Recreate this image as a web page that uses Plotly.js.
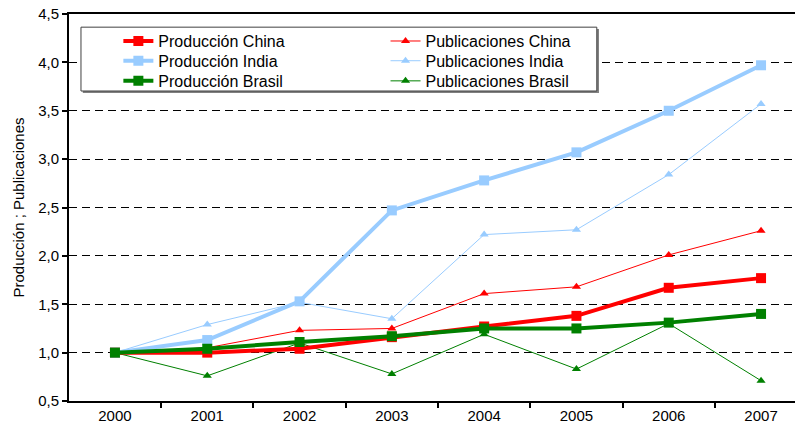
<!DOCTYPE html>
<html><head><meta charset="utf-8">
<script src="https://cdn.plot.ly/plotly-3.0.1.min.js"></script>
<style>html,body{margin:0;padding:0;background:#fff}</style>
</head><body>
<div id="chart" style="width:795px;height:434px"></div>
<script>
var years = ["2000","2001","2002","2003","2004","2005","2006","2007"];
var prodChina  = [1.00, 1.00, 1.04, 1.16, 1.27, 1.38, 1.67, 1.77];
var prodIndia  = [1.00, 1.13, 1.53, 2.47, 2.78, 3.07, 3.50, 3.97];
var prodBrasil = [1.00, 1.04, 1.11, 1.17, 1.25, 1.25, 1.31, 1.40];
var pubChina   = [1.00, 1.05, 1.23, 1.25, 1.61, 1.68, 2.01, 2.26];
var pubIndia   = [1.00, 1.29, 1.52, 1.35, 2.22, 2.27, 2.84, 3.57];
var pubBrasil  = [1.00, 0.76, 1.10, 0.78, 1.19, 0.83, 1.30, 0.71];

var RED = "#FF0000", BLUE = "#99CCFF", GREEN = "#008000";

function prod(name, y, c, lg) {
  return {x: years, y: y, name: name, type: "scatter", mode: "lines+markers",
    line: {color: c, width: 4}, marker: {symbol: "square", size: 10, color: c},
    legend: lg};
}
function pub(name, y, c, lg) {
  return {x: years, y: y, name: name, type: "scatter", mode: "lines+markers",
    line: {color: c, width: 1}, marker: {symbol: "triangle-up", size: 8, color: c},
    legend: lg};
}

var data = [
  pub("Publicaciones China", pubChina, RED, "legend4"),
  pub("Publicaciones India", pubIndia, BLUE, "legend5"),
  pub("Publicaciones Brasil", pubBrasil, GREEN, "legend6"),
  prod("Producción China", prodChina, RED, "legend"),
  prod("Producción India", prodIndia, BLUE, "legend2"),
  prod("Producción Brasil", prodBrasil, GREEN, "legend3")
];

var FONT = {family: "Liberation Sans, Arial, sans-serif", size: 15, color: "#000"};
var LFONT = {family: "Liberation Sans, Arial, sans-serif", size: 16, color: "#000"};

function leg(x, y) {
  return {x: x, y: y, xanchor: "left", yanchor: "middle",
    bgcolor: "rgba(0,0,0,0)", borderwidth: 0, font: LFONT};
}

var layout = {
  width: 795, height: 434,
  margin: {l: 69, r: 0, t: 14, b: 33},
  paper_bgcolor: "#fff", plot_bgcolor: "#fff",
  font: FONT,
  separators: ",.",
  showlegend: true,
  xaxis: {
    type: "category", range: [-0.498, 7.368],
    tickson: "boundaries", ticks: "outside", ticklen: 5, tickwidth: 2, tickcolor: "#000",
    showline: true, linecolor: "#000", linewidth: 2, mirror: true,
    showgrid: false, zeroline: false, fixedrange: true,
    tickfont: FONT
  },
  yaxis: {
    range: [0.5, 4.5], dtick: 0.5, tick0: 0.5, tickformat: ".1f",
    ticks: "outside", ticklen: 5, tickwidth: 2, tickcolor: "#000",
    showline: true, linecolor: "#000", linewidth: 2,
    showgrid: true, gridcolor: "#000", gridwidth: 1, griddash: "8px,5px",
    zeroline: false, fixedrange: true,
    tickfont: FONT,
    title: {text: "Producción ; Publicaciones", font: FONT, standoff: 10}
  },
  legend:  leg(0.068, 0.930),
  legend2: leg(0.068, 0.879),
  legend3: leg(0.068, 0.827),
  legend4: leg(0.436, 0.930),
  legend5: leg(0.436, 0.879),
  legend6: leg(0.436, 0.827),
  shapes: [
    {type: "rect", xref: "paper", yref: "paper", x0: 0.019, x1: 0.730, y0: 0.796, y1: 0.961,
     fillcolor: "#808080", line: {width: 0}, layer: "above"},
    {type: "rect", xref: "paper", yref: "paper", x0: 0.0165, x1: 0.727, y0: 0.801, y1: 0.966,
     fillcolor: "#fff", line: {color: "#404040", width: 1}, layer: "above"}
  ]
};

Plotly.newPlot("chart", data, layout, {staticPlot: true, displayModeBar: false});
</script>
</body></html>
